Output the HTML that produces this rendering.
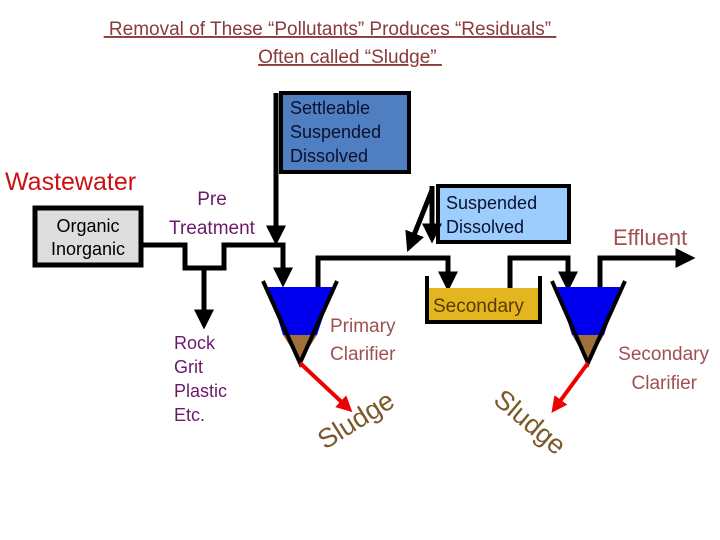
<!DOCTYPE html>
<html><head><meta charset="utf-8"><style>
body{margin:0;background:#fff;width:720px;height:540px;overflow:hidden}
svg{display:block}
.c{font-family:"Liberation Sans",sans-serif}
</style></head><body>
<svg width="720" height="540" viewBox="0 0 720 540" xmlns="http://www.w3.org/2000/svg" class="c">
<defs>
<marker id="a" markerWidth="4" markerHeight="4" refX="2.5" refY="2" orient="auto" markerUnits="strokeWidth"><path d="M0,0 L4,2 L0,4 z" fill="#000"/></marker>
<marker id="r" markerWidth="4" markerHeight="4" refX="2.5" refY="2" orient="auto" markerUnits="strokeWidth"><path d="M0,0 L4,2 L0,4 z" fill="#e00"/></marker>
</defs>
<g fill="#8b3a3a" font-size="19" text-anchor="middle" text-decoration="underline">
<text x="330" y="35">&#160;Removal of These “Pollutants” Produces “Residuals”&#160;</text>
<text x="350" y="63">Often called “Sludge”&#160;</text>
</g>
<text x="5" y="190" font-size="25" fill="#cc1111">Wastewater</text>
<rect x="35" y="208" width="106" height="57" fill="#ddd" stroke="#000" stroke-width="5"/>
<text x="88" y="232" font-size="18" text-anchor="middle" fill="#000">Organic</text>
<text x="88" y="255" font-size="18" text-anchor="middle" fill="#000">Inorganic</text>
<g fill="#6a1a6a" font-size="19" text-anchor="middle"><text x="212" y="205">Pre</text><text x="212" y="234">Treatment</text></g>
<g fill="#6a1a6a" font-size="18"><text x="174" y="349">Rock</text><text x="174" y="373">Grit</text><text x="174" y="397">Plastic</text><text x="174" y="421">Etc.</text></g>
<rect x="281" y="93" width="128" height="79" fill="#4f7fc0" stroke="#000" stroke-width="4"/>
<g fill="#0a1030" font-size="18"><text x="290" y="114">Settleable</text><text x="290" y="138">Suspended</text><text x="290" y="162">Dissolved</text></g>
<rect x="438" y="186" width="131" height="56" fill="#9ccdfc" stroke="#000" stroke-width="4"/>
<g fill="#0a1030" font-size="18"><text x="446" y="209">Suspended</text><text x="446" y="233">Dissolved</text></g>
<g stroke="#000" stroke-width="5" fill="none">
<path d="M143,245 H185 V268 H224 V245 H283 V280" marker-end="url(#a)"/>
<line x1="204" y1="268" x2="204" y2="322" marker-end="url(#a)"/>
<line x1="276" y1="93" x2="276" y2="238" marker-end="url(#a)"/>
<path d="M318,287 V258 H448 V284" marker-end="url(#a)"/>
<line x1="432" y1="186" x2="432" y2="236" marker-end="url(#a)"/>
<line x1="432" y1="190" x2="410" y2="245" marker-end="url(#a)"/>
<path d="M510,288 V258 H568 V284" marker-end="url(#a)"/>
<path d="M600,287 V258 H688" marker-end="url(#a)"/>
</g>
<polygon points="268,287 333,287 317,335 283,335" fill="#0000ee"/>
<polygon points="283,335 317,335 300,362" fill="#a0703a"/>
<polyline points="263,281 300,363 337,281" fill="none" stroke="#000" stroke-width="4"/>
<polygon points="557,287 620,287 604,335 572,335" fill="#0000ee"/>
<polygon points="572,335 604,335 588,362" fill="#a0703a"/>
<polyline points="552,281 588,363 625,281" fill="none" stroke="#000" stroke-width="4"/>
<rect x="427" y="288" width="113" height="34" fill="#e3b51e"/>
<polyline points="427,276 427,322 540,322 540,276" fill="none" stroke="#000" stroke-width="4"/>
<text x="433" y="312" font-size="19" fill="#5a3a00">Secondary</text>
<g stroke-width="4"><line x1="300" y1="363" x2="348" y2="408" stroke="#e00" marker-end="url(#r)"/>
<line x1="588" y1="363" x2="555" y2="408" stroke="#e00" marker-end="url(#r)"/></g>
<g fill="#a05050" font-size="19"><text x="330" y="332">Primary</text><text x="330" y="360">Clarifier</text>
<text x="613" y="245" font-size="22">Effluent</text>
<text x="709" y="360" text-anchor="end">Secondary</text><text x="697" y="389" text-anchor="end">Clarifier</text></g>
<text x="0" y="0" font-size="27" fill="#7a5a2a" transform="translate(325,450) rotate(-32)">Sludge</text>
<text x="0" y="0" font-size="27" fill="#7a5a2a" transform="translate(492,402) rotate(40)">Sludge</text>
</svg>
</body></html>
